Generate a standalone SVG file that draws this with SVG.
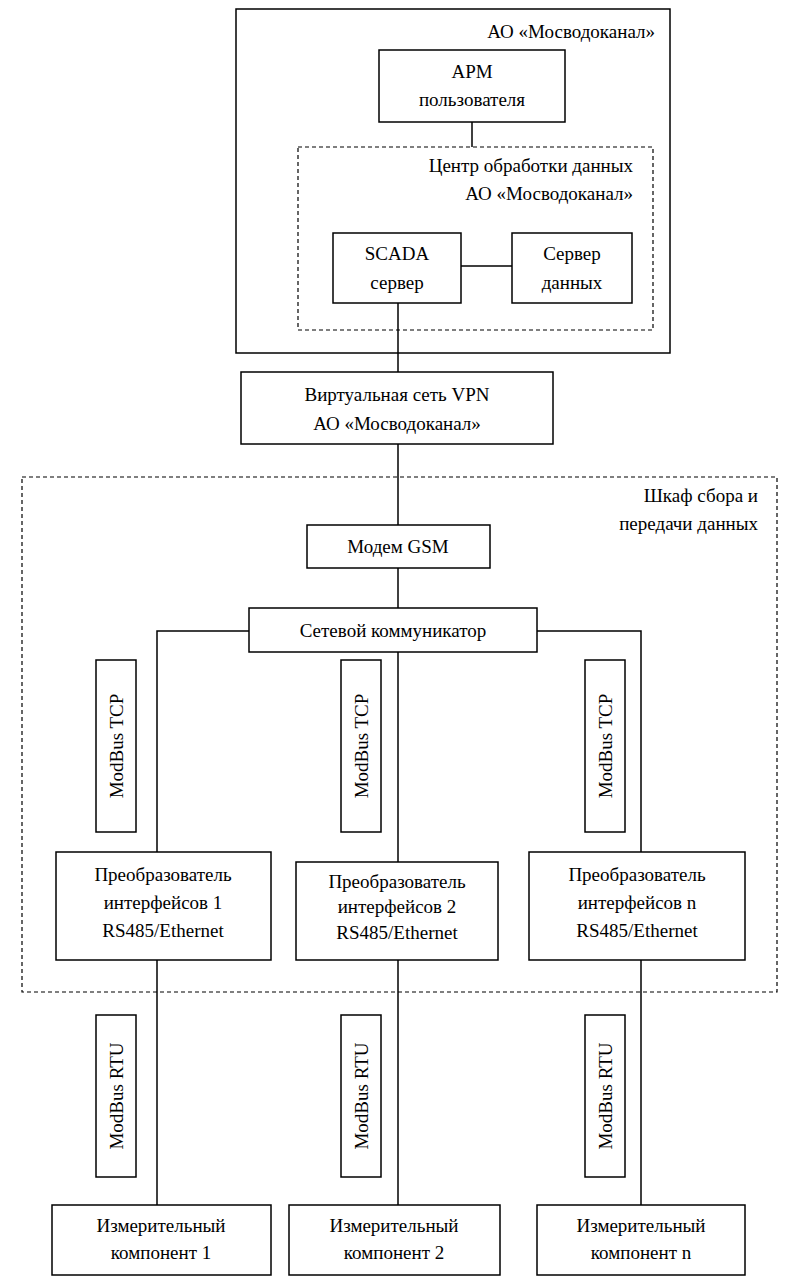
<svg xmlns="http://www.w3.org/2000/svg" width="798" height="1288" viewBox="0 0 798 1288">
<style>
rect{fill:#fff;stroke:#000;stroke-width:1.5}
.d{fill:none;stroke-dasharray:4 3;stroke-width:1.2}
.o{fill:none}
text{font-family:"Liberation Serif",serif;font-size:19px;fill:#000;text-anchor:middle}
.r{text-anchor:end}
line,polyline{stroke:#000;stroke-width:1.5;fill:none}
</style>
<rect x="0" y="0" width="798" height="1288" style="stroke:none"/>
<g id="mosvodokanal"><rect class="o" x="236" y="9" width="434" height="344"/><text class="r" x="655" y="38">АО «Мосводоканал»</text></g>
<g id="cod"><rect class="d" x="298" y="147" width="355" height="183"/><text class="r" x="633" y="172">Центр обработки данных</text><text class="r" x="633" y="200">АО «Мосводоканал»</text></g>
<g id="shkaf"><rect class="d" x="22" y="477" width="755" height="515"/><text class="r" x="758" y="502">Шкаф сбора и</text><text class="r" x="758" y="530">передачи данных</text></g>
<g id="connectors">
<line x1="472" y1="122" x2="472" y2="147"/>
<line x1="461" y1="266" x2="512" y2="266"/>
<line x1="398" y1="303" x2="398" y2="372"/>
<line x1="398" y1="444" x2="398" y2="525"/>
<line x1="398" y1="568" x2="398" y2="608"/>
<polyline points="249,631 157,631 157,852"/>
<line x1="398" y1="652" x2="398" y2="862"/>
<polyline points="537,631 641,631 641,852"/>
<line x1="157" y1="960" x2="157" y2="1205"/>
<line x1="398" y1="960" x2="398" y2="1205"/>
<line x1="641" y1="960" x2="641" y2="1205"/>
</g>
<g id="arm"><rect x="379" y="50" width="186" height="72"/><text x="472" y="78">АРМ</text><text x="472" y="106">пользователя</text></g>
<g id="scada"><rect x="333" y="233" width="128" height="70"/><text x="397" y="260">SCADA</text><text x="397" y="289">сервер</text></g>
<g id="dataserver"><rect x="512" y="233" width="120" height="70"/><text x="572" y="260">Сервер</text><text x="572" y="289">данных</text></g>
<g id="vpn"><rect x="241" y="372" width="312" height="72"/><text x="397" y="401">Виртуальная сеть VPN</text><text x="397" y="430">АО «Мосводоканал»</text></g>
<g id="modem"><rect x="307" y="525" width="183" height="43"/><text x="398" y="553">Модем GSM</text></g>
<g id="comm"><rect x="249" y="608" width="288" height="44"/><text x="393" y="637">Сетевой коммуникатор</text></g>
<g id="tcp1"><rect x="96" y="660" width="40" height="172"/><text transform="translate(123,746) rotate(-90)">ModBus TCP</text></g>
<g id="tcp2"><rect x="341" y="660" width="40" height="172"/><text transform="translate(368,746) rotate(-90)">ModBus TCP</text></g>
<g id="tcp3"><rect x="585" y="660" width="40" height="172"/><text transform="translate(612,746) rotate(-90)">ModBus TCP</text></g>
<g id="conv1"><rect x="56" y="852" width="215" height="108"/><text x="163" y="881">Преобразователь</text><text x="163" y="909">интерфейсов 1</text><text x="163" y="937">RS485/Ethernet</text></g>
<g id="conv2"><rect x="296" y="862" width="202" height="98"/><text x="397" y="888">Преобразователь</text><text x="397" y="913">интерфейсов 2</text><text x="397" y="939">RS485/Ethernet</text></g>
<g id="conv3"><rect x="529" y="852" width="216" height="108"/><text x="637" y="881">Преобразователь</text><text x="637" y="909">интерфейсов n</text><text x="637" y="937">RS485/Ethernet</text></g>
<g id="rtu1"><rect x="96" y="1015" width="40" height="162"/><text transform="translate(123,1096) rotate(-90)">ModBus RTU</text></g>
<g id="rtu2"><rect x="341" y="1015" width="40" height="162"/><text transform="translate(368,1096) rotate(-90)">ModBus RTU</text></g>
<g id="rtu3"><rect x="585" y="1015" width="40" height="162"/><text transform="translate(612,1096) rotate(-90)">ModBus RTU</text></g>
<g id="meas1"><rect x="52" y="1205" width="219" height="70"/><text x="161" y="1232">Измерительный</text><text x="161" y="1259">компонент 1</text></g>
<g id="meas2"><rect x="289" y="1205" width="211" height="70"/><text x="394" y="1232">Измерительный</text><text x="394" y="1259">компонент 2</text></g>
<g id="meas3"><rect x="537" y="1205" width="208" height="70"/><text x="641" y="1232">Измерительный</text><text x="641" y="1259">компонент n</text></g>
</svg>
